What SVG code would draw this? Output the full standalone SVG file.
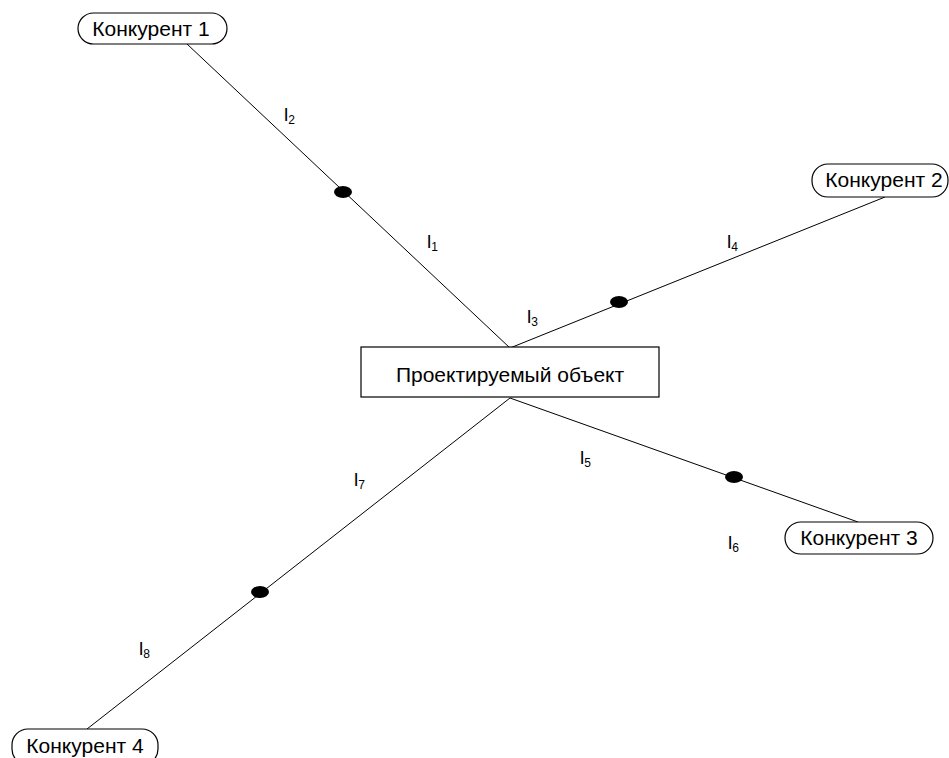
<svg xmlns="http://www.w3.org/2000/svg" width="949" height="758" viewBox="0 0 949 758">
<style>
.n{fill:#fff;stroke:#000;stroke-width:1.2}
.t{font-family:"Liberation Sans",Arial,sans-serif;font-size:21px;fill:#000;text-anchor:middle}
.l{font-family:"Liberation Sans",Arial,sans-serif;font-size:19px;fill:#000}
.s{font-size:12px}
.c{stroke:#000;stroke-width:1;fill:none}
.d{fill:#000}
</style>
<rect width="949" height="758" fill="#fff"/>
<g id="connectors">
<line class="c" x1="187" y1="44" x2="510" y2="348"/>
<line class="c" x1="885" y1="197" x2="510" y2="348"/>
<line class="c" x1="510" y1="398" x2="858" y2="522"/>
<line class="c" x1="510" y1="398" x2="87" y2="729"/>
<ellipse class="d" cx="343" cy="192" rx="9" ry="6"/>
<ellipse class="d" cx="619" cy="302" rx="9" ry="6"/>
<ellipse class="d" cx="734" cy="477" rx="9" ry="6"/>
<ellipse class="d" cx="260" cy="592" rx="9" ry="6"/>
</g>
<g id="labels">
<text class="l" x="284" y="121">l<tspan class="s" dy="3">2</tspan></text>
<text class="l" x="427" y="248">l<tspan class="s" dy="3">1</tspan></text>
<text class="l" x="727" y="248">l<tspan class="s" dy="3">4</tspan></text>
<text class="l" x="527" y="323">l<tspan class="s" dy="3">3</tspan></text>
<text class="l" x="580" y="464">l<tspan class="s" dy="3">5</tspan></text>
<text class="l" x="354" y="486">l<tspan class="s" dy="3">7</tspan></text>
<text class="l" x="728" y="549">l<tspan class="s" dy="3">6</tspan></text>
<text class="l" x="139" y="655">l<tspan class="s" dy="3">8</tspan></text>
</g>
<g id="center">
<rect class="n" x="361" y="347" width="298" height="50"/>
<text class="t" x="510" y="382">Проектируемый объект</text>
</g>
<g id="k1">
<rect class="n" x="78" y="13" width="149" height="31" rx="15.5"/>
<text class="t" x="151" y="36">Конкурент 1</text>
</g>
<g id="k2">
<rect class="n" x="812" y="164" width="136" height="33" rx="16"/>
<text class="t" x="884" y="187">Конкурент 2</text>
</g>
<g id="k3">
<rect class="n" x="785" y="522" width="148" height="32" rx="16"/>
<text class="t" x="859" y="545">Конкурент 3</text>
</g>
<g id="k4">
<rect class="n" x="12" y="729" width="146" height="36" rx="16"/>
<text class="t" x="85" y="753">Конкурент 4</text>
</g>
</svg>
